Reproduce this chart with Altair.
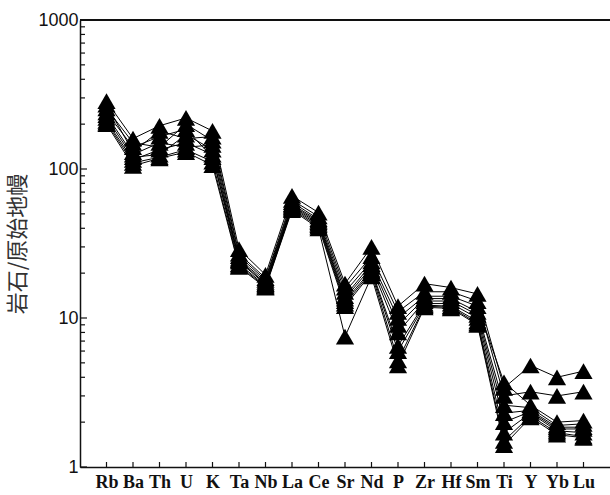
import altair as alt
import pandas as pd

elements = ["Rb", "Ba", "Th", "U", "K", "Ta", "Nb", "La", "Ce", "Sr",
            "Nd", "P", "Zr", "Hf", "Sm", "Ti", "Y", "Yb", "Lu"]

s1 = [285, 160, 195, 220, 180, 29.0, 19.5, 66, 51, 17.0, 30, 12.0, 17.0, 16.0, 14.5, 3.4, 4.8, 4.0, 4.4]
s2 = [270, 130, 180, 160, 165, 27.0, 18.5, 62, 48, 16.0, 26, 11.0, 15.0, 15.0, 13.0, 3.0, 3.2, 3.0, 3.2]
s3 = [255, 150, 140, 200, 155, 26.0, 18.0, 60, 46, 15.0, 24, 10.0, 14.0, 14.0, 12.0, 3.7, 2.6, 2.0, 2.05]
s4 = [240, 140, 165, 185, 120, 25.0, 17.5, 58, 45, 14.0, 23, 9.0, 13.5, 13.5, 11.0, 2.6, 2.5, 1.9, 1.95]
s5 = [230, 125, 150, 140, 145, 24.5, 17.0, 57, 44, 13.5, 22, 8.0, 13.0, 13.0, 10.5, 2.3, 2.4, 1.85, 1.85]
s6 = [220, 120, 125, 170, 135, 24.0, 16.8, 56, 43, 13.0, 21, 6.5, 12.5, 12.5, 10.0, 2.0, 2.35, 1.8, 1.8]
s7 = [210, 115, 135, 150, 125, 23.0, 16.5, 55, 42, 12.5, 20.5, 6.0, 12.2, 12.0, 9.5, 1.7, 2.3, 1.75, 1.7]
s8 = [205, 110, 120, 135, 112, 22.5, 16.2, 54, 41, 12.0, 20, 5.2, 12.0, 11.8, 9.2, 1.5, 2.2, 1.7, 1.6]
s9 = [200, 105, 118, 130, 106, 22.0, 16.0, 53, 40, 7.5, 19, 4.8, 11.8, 11.6, 9.0, 1.4, 2.15, 1.65, 1.57]

samples = {"S1": s1, "S2": s2, "S3": s3, "S4": s4, "S5": s5,
           "S6": s6, "S7": s7, "S8": s8, "S9": s9}

y_minor_ticks = [2, 3, 4, 5, 6, 7, 8, 9,
                 20, 30, 40, 50, 60, 70, 80, 90,
                 200, 300, 400, 500, 600, 700, 800, 900]
y_label_values = [1, 10, 100, 1000]

rows = []
for name, vals in samples.items():
    for i, (el, v) in enumerate(zip(elements, vals)):
        rows.append({"sample": name, "element": el, "idx": i, "value": v})
df = pd.DataFrame(rows)

W, H = 530, 447

xscale = alt.Scale(type="point", domain=elements, padding=1)
yscale = alt.Scale(type="log", domain=[1, 1000])

x_enc = alt.X("element:N", scale=xscale, sort=elements,
              axis=alt.Axis(title=None, labelAngle=0, tickSize=0, labelPadding=6,
                            labelFont="Liberation Serif", labelFontSize=18,
                            labelFontWeight="bold", labelColor="#111",
                            domainColor="#111", domainWidth=1.5, grid=False))
y_enc = alt.Y("value:Q", scale=yscale,
              axis=alt.Axis(title="岩石/原始地幔", values=y_label_values, format="d",
                            tickSize=0, labelPadding=2, labelFont="Liberation Sans",
                            labelFontSize=18, labelColor="#111",
                            titleFont="Noto Sans CJK SC", titleFontSize=22,
                            titleFontWeight="normal", titleColor="#333",
                            titlePadding=8, domainColor="#111", domainWidth=1.5,
                            grid=False))

lines = alt.Chart(df).mark_line(color="black", strokeWidth=1).encode(
    x=x_enc, y=y_enc, detail="sample:N", order="idx:Q")

points = alt.Chart(df).mark_point(shape="triangle-up", filled=True, size=330,
                                  color="black", opacity=1).encode(
    x=alt.X("element:N", scale=xscale, sort=elements),
    y=alt.Y("value:Q", scale=yscale))

ymajor = alt.Chart(pd.DataFrame({"v": y_label_values})).mark_rule(
    color="#111", strokeWidth=1.2).encode(
    y=alt.Y("v:Q", scale=yscale), x=alt.value(0), x2=alt.value(7))

yminor = alt.Chart(pd.DataFrame({"v": y_minor_ticks})).mark_rule(
    color="#111", strokeWidth=1.2).encode(
    y=alt.Y("v:Q", scale=yscale), x=alt.value(0), x2=alt.value(5))

xtick_df = pd.DataFrame({"element": elements})
xticks = alt.Chart(xtick_df).mark_rule(color="#111", strokeWidth=1.2).encode(
    x=alt.X("element:N", scale=xscale, sort=elements),
    y=alt.value(H), y2=alt.value(H - 5))

top_line = alt.Chart(xtick_df).mark_rule(color="#111", strokeWidth=1.5).encode(
    x=alt.value(0), x2=alt.value(W), y=alt.value(0))

chart = alt.layer(lines, points, ymajor, yminor, xticks, top_line).properties(
    width=W, height=H,
    autosize=alt.AutoSizeParams(type="none"),
    padding={"left": 80, "top": 20, "right": 0, "bottom": 28},
    background="white",
).configure_view(stroke=None)

chart.save("out.html", embed_options={"renderer": "svg", "actions": False})
